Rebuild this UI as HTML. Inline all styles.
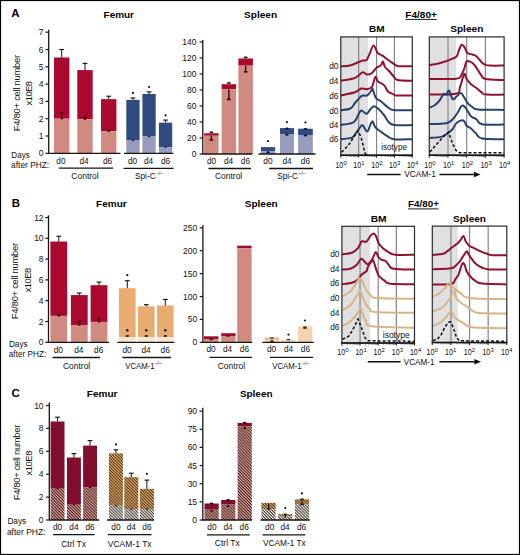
<!DOCTYPE html><html><head><meta charset="utf-8"><style>html,body{margin:0;padding:0;background:#fff;overflow:hidden;width:520px;height:555px;}svg{display:block;}</style></head><body>
<svg width="520" height="555" viewBox="0 0 520 555" font-family='"Liberation Sans", sans-serif'>
<defs>
<pattern id="hRU" patternUnits="userSpaceOnUse" width="2.1" height="2.1" patternTransform="rotate(45)"><rect width="2.1" height="2.1" fill="#8E0F31"/><rect width="2.1" height="0.8" fill="#6C0A25"/></pattern>
<pattern id="hRL" patternUnits="userSpaceOnUse" width="2.1" height="2.1" patternTransform="rotate(45)"><rect width="2.1" height="2.1" fill="#DEA69E"/><rect width="2.1" height="1.05" fill="#4E2020"/></pattern>
<pattern id="hOU" patternUnits="userSpaceOnUse" width="2.1" height="2.1" patternTransform="rotate(45)"><rect width="2.1" height="2.1" fill="#DCA468"/><rect width="2.1" height="1.0" fill="#5A3A18"/></pattern>
<pattern id="hOL" patternUnits="userSpaceOnUse" width="2.1" height="2.1" patternTransform="rotate(45)"><rect width="2.1" height="2.1" fill="#FBF5EA"/><rect width="2.1" height="1.0" fill="#35302A"/></pattern>
</defs>
<rect x="0" y="0" width="520" height="555" fill="#fff"/>
<text x="11.3" y="17.3" font-size="11.5" font-weight="bold" fill="#000">A</text>
<text x="118.8" y="17.9" font-size="9.5" text-anchor="middle" font-weight="bold" textLength="30.4" lengthAdjust="spacingAndGlyphs" fill="#000">Femur</text>
<text x="260.6" y="17.9" font-size="9.5" text-anchor="middle" font-weight="bold" textLength="33.0" lengthAdjust="spacingAndGlyphs" fill="#000">Spleen</text>
<text x="19.6" y="93" font-size="9.4" text-anchor="middle" textLength="76.3" lengthAdjust="spacing" transform="rotate(-90 19.6 93)" fill="#111">F4/80+ cell number</text>
<text x="31.6" y="93.2" font-size="9.4" text-anchor="middle" textLength="24.4" lengthAdjust="spacing" transform="rotate(-90 31.6 93.2)" fill="#111">x10E8</text>
<line x1="48.7" y1="29.8" x2="48.7" y2="153.8" stroke="#151515" stroke-width="1.3"/>
<line x1="45.5" y1="153.3" x2="48.7" y2="153.3" stroke="#151515" stroke-width="1.2"/>
<text x="43.4" y="156.35000000000002" font-size="8.5" text-anchor="end" fill="#111">0</text>
<line x1="45.5" y1="136.0" x2="48.7" y2="136.0" stroke="#151515" stroke-width="1.2"/>
<text x="43.4" y="139.05" font-size="8.5" text-anchor="end" fill="#111">1</text>
<line x1="45.5" y1="118.70000000000002" x2="48.7" y2="118.70000000000002" stroke="#151515" stroke-width="1.2"/>
<text x="43.4" y="121.75000000000001" font-size="8.5" text-anchor="end" fill="#111">2</text>
<line x1="45.5" y1="101.4" x2="48.7" y2="101.4" stroke="#151515" stroke-width="1.2"/>
<text x="43.4" y="104.45" font-size="8.5" text-anchor="end" fill="#111">3</text>
<line x1="45.5" y1="84.10000000000001" x2="48.7" y2="84.10000000000001" stroke="#151515" stroke-width="1.2"/>
<text x="43.4" y="87.15" font-size="8.5" text-anchor="end" fill="#111">4</text>
<line x1="45.5" y1="66.80000000000001" x2="48.7" y2="66.80000000000001" stroke="#151515" stroke-width="1.2"/>
<text x="43.4" y="69.85000000000001" font-size="8.5" text-anchor="end" fill="#111">5</text>
<line x1="45.5" y1="49.5" x2="48.7" y2="49.5" stroke="#151515" stroke-width="1.2"/>
<text x="43.4" y="52.55" font-size="8.5" text-anchor="end" fill="#111">6</text>
<line x1="45.5" y1="32.2" x2="48.7" y2="32.2" stroke="#151515" stroke-width="1.2"/>
<text x="43.4" y="35.25" font-size="8.5" text-anchor="end" fill="#111">7</text>
<rect x="54.00" y="57.46" width="15.40" height="61.24" fill="#A9082F"/>
<rect x="54.00" y="118.70" width="15.40" height="34.60" fill="#D08A7F"/>
<line x1="61.7" y1="49.5" x2="61.7" y2="57.45800000000001" stroke="#1a0a0a" stroke-width="1.0"/>
<line x1="59.300000000000004" y1="49.5" x2="64.10000000000001" y2="49.5" stroke="#1a0a0a" stroke-width="1.1"/>
<rect x="77.30" y="70.09" width="15.40" height="49.13" fill="#A9082F"/>
<rect x="77.30" y="119.22" width="15.40" height="34.08" fill="#D08A7F"/>
<line x1="85.0" y1="63.34" x2="85.0" y2="70.08700000000002" stroke="#1a0a0a" stroke-width="1.0"/>
<line x1="82.6" y1="63.34" x2="87.4" y2="63.34" stroke="#1a0a0a" stroke-width="1.1"/>
<rect x="101.00" y="99.15" width="15.40" height="32.18" fill="#A9082F"/>
<rect x="101.00" y="131.33" width="15.40" height="21.97" fill="#D08A7F"/>
<line x1="108.7" y1="96.21000000000001" x2="108.7" y2="99.15100000000001" stroke="#1a0a0a" stroke-width="1.0"/>
<line x1="106.3" y1="96.21000000000001" x2="111.10000000000001" y2="96.21000000000001" stroke="#1a0a0a" stroke-width="1.1"/>
<line x1="61.7" y1="113.20000000000002" x2="61.7" y2="118.70000000000002" stroke="#300" stroke-width="1.1"/>
<line x1="59.900000000000006" y1="113.20000000000002" x2="63.5" y2="113.20000000000002" stroke="#300" stroke-width="1.1"/>
<line x1="60.6" y1="118.70000000000002" x2="62.800000000000004" y2="118.70000000000002" stroke="#300" stroke-width="1.2"/>
<line x1="85.0" y1="117.21900000000001" x2="85.0" y2="119.21900000000001" stroke="#300" stroke-width="1.1"/>
<line x1="83.2" y1="117.21900000000001" x2="86.8" y2="117.21900000000001" stroke="#300" stroke-width="1.1"/>
<line x1="83.9" y1="119.21900000000001" x2="86.1" y2="119.21900000000001" stroke="#300" stroke-width="1.2"/>
<line x1="108.7" y1="130.329" x2="108.7" y2="131.329" stroke="#300" stroke-width="1.1"/>
<line x1="106.9" y1="130.329" x2="110.5" y2="130.329" stroke="#300" stroke-width="1.1"/>
<line x1="107.60000000000001" y1="131.329" x2="109.8" y2="131.329" stroke="#300" stroke-width="1.2"/>
<rect x="126.30" y="99.84" width="13.30" height="40.66" fill="#2F4B80"/>
<rect x="126.30" y="140.50" width="13.30" height="12.80" fill="#979CBF"/>
<line x1="132.95" y1="97.94" x2="132.95" y2="99.84300000000002" stroke="#1a0a0a" stroke-width="1.0"/>
<line x1="130.54999999999998" y1="97.94" x2="135.35" y2="97.94" stroke="#1a0a0a" stroke-width="1.1"/>
<line x1="131.85" y1="140.49800000000002" x2="134.04999999999998" y2="140.49800000000002" stroke="#0a1030" stroke-width="1.2"/>
<circle cx="132.95" cy="92.9" r="1.1" fill="#111"/>
<rect x="142.40" y="93.96" width="13.30" height="42.56" fill="#2F4B80"/>
<rect x="142.40" y="136.52" width="13.30" height="16.78" fill="#979CBF"/>
<line x1="149.05" y1="91.88500000000002" x2="149.05" y2="93.96100000000001" stroke="#1a0a0a" stroke-width="1.0"/>
<line x1="146.65" y1="91.88500000000002" x2="151.45000000000002" y2="91.88500000000002" stroke="#1a0a0a" stroke-width="1.1"/>
<line x1="147.95000000000002" y1="136.519" x2="150.15" y2="136.519" stroke="#0a1030" stroke-width="1.2"/>
<circle cx="149.05" cy="87.0" r="1.1" fill="#111"/>
<rect x="158.90" y="122.68" width="13.30" height="24.39" fill="#2F4B80"/>
<rect x="158.90" y="147.07" width="13.30" height="6.23" fill="#979CBF"/>
<line x1="165.55" y1="120.084" x2="165.55" y2="122.679" stroke="#1a0a0a" stroke-width="1.0"/>
<line x1="163.15" y1="120.084" x2="167.95000000000002" y2="120.084" stroke="#1a0a0a" stroke-width="1.1"/>
<line x1="164.45000000000002" y1="147.072" x2="166.65" y2="147.072" stroke="#0a1030" stroke-width="1.2"/>
<circle cx="165.55" cy="115.3" r="1.1" fill="#111"/>
<text x="60.9" y="163.8" font-size="8.3" text-anchor="middle" fill="#111">d0</text>
<text x="84.0" y="163.8" font-size="8.3" text-anchor="middle" fill="#111">d4</text>
<text x="107.5" y="163.8" font-size="8.3" text-anchor="middle" fill="#111">d6</text>
<text x="132.5" y="163.8" font-size="8.3" text-anchor="middle" fill="#111">d0</text>
<text x="148.6" y="163.8" font-size="8.3" text-anchor="middle" fill="#111">d4</text>
<text x="165.5" y="163.8" font-size="8.3" text-anchor="middle" fill="#111">d6</text>
<text x="85.0" y="178.6" font-size="8.3" text-anchor="middle" textLength="27.3" lengthAdjust="spacingAndGlyphs" fill="#111">Control</text>
<text x="145.3" y="178.6" font-size="8.3" text-anchor="middle" fill="#111">Spi-C</text>
<text x="156.2" y="175.2" font-size="5.0" fill="#111">&#8211;/&#8211;</text>
<text x="11.3" y="157.7" font-size="8.3" textLength="18.5" lengthAdjust="spacingAndGlyphs" fill="#111">Days</text>
<text x="11.1" y="167.7" font-size="8.3" textLength="38.1" lengthAdjust="spacingAndGlyphs" fill="#111">after PHZ:</text>
<line x1="202.8" y1="40.0" x2="202.8" y2="154.5" stroke="#151515" stroke-width="1.3"/>
<line x1="199.60000000000002" y1="154.0" x2="202.8" y2="154.0" stroke="#151515" stroke-width="1.2"/>
<text x="196.5" y="157.05" font-size="8.5" text-anchor="end" fill="#111">0</text>
<line x1="199.60000000000002" y1="138.0" x2="202.8" y2="138.0" stroke="#151515" stroke-width="1.2"/>
<text x="196.5" y="141.05" font-size="8.5" text-anchor="end" fill="#111">20</text>
<line x1="199.60000000000002" y1="122.0" x2="202.8" y2="122.0" stroke="#151515" stroke-width="1.2"/>
<text x="196.5" y="125.05" font-size="8.5" text-anchor="end" fill="#111">40</text>
<line x1="199.60000000000002" y1="106.0" x2="202.8" y2="106.0" stroke="#151515" stroke-width="1.2"/>
<text x="196.5" y="109.05" font-size="8.5" text-anchor="end" fill="#111">60</text>
<line x1="199.60000000000002" y1="90.0" x2="202.8" y2="90.0" stroke="#151515" stroke-width="1.2"/>
<text x="196.5" y="93.05" font-size="8.5" text-anchor="end" fill="#111">80</text>
<line x1="199.60000000000002" y1="74.0" x2="202.8" y2="74.0" stroke="#151515" stroke-width="1.2"/>
<text x="196.5" y="77.05" font-size="8.5" text-anchor="end" fill="#111">100</text>
<line x1="199.60000000000002" y1="58.0" x2="202.8" y2="58.0" stroke="#151515" stroke-width="1.2"/>
<text x="196.5" y="61.05" font-size="8.5" text-anchor="end" fill="#111">120</text>
<line x1="199.60000000000002" y1="42.0" x2="202.8" y2="42.0" stroke="#151515" stroke-width="1.2"/>
<text x="196.5" y="45.05" font-size="8.5" text-anchor="end" fill="#111">140</text>
<rect x="204.10" y="133.28" width="14.50" height="2.48" fill="#A9082F"/>
<rect x="204.10" y="135.76" width="14.50" height="18.24" fill="#D08A7F"/>
<line x1="211.35" y1="135.76" x2="211.35" y2="139.9" stroke="#200" stroke-width="1.3"/>
<line x1="209.54999999999998" y1="132.3" x2="213.15" y2="132.3" stroke="#200" stroke-width="1.5"/>
<line x1="209.54999999999998" y1="139.9" x2="213.15" y2="139.9" stroke="#200" stroke-width="1.5"/>
<rect x="221.60" y="84.20" width="14.50" height="5.00" fill="#A9082F"/>
<rect x="221.60" y="89.20" width="14.50" height="64.80" fill="#D08A7F"/>
<line x1="228.85" y1="89.2" x2="228.85" y2="99.5" stroke="#200" stroke-width="1.3"/>
<line x1="227.04999999999998" y1="83.0" x2="230.65" y2="83.0" stroke="#200" stroke-width="1.5"/>
<line x1="227.04999999999998" y1="99.5" x2="230.65" y2="99.5" stroke="#200" stroke-width="1.5"/>
<rect x="238.40" y="58.48" width="14.50" height="7.20" fill="#A9082F"/>
<rect x="238.40" y="65.68" width="14.50" height="88.32" fill="#D08A7F"/>
<line x1="245.65" y1="65.67999999999999" x2="245.65" y2="71.8" stroke="#200" stroke-width="1.3"/>
<line x1="243.85" y1="57.4" x2="247.45000000000002" y2="57.4" stroke="#200" stroke-width="1.5"/>
<line x1="243.85" y1="71.8" x2="247.45000000000002" y2="71.8" stroke="#200" stroke-width="1.5"/>
<rect x="261.00" y="147.12" width="14.20" height="4.00" fill="#2F4B80"/>
<rect x="261.00" y="151.12" width="14.20" height="2.88" fill="#979CBF"/>
<ellipse cx="268.1" cy="152.2" rx="1.8" ry="1.0" fill="#0a1030"/>
<circle cx="268.1" cy="141.1" r="1.1" fill="#111"/>
<rect x="280.00" y="128.08" width="14.00" height="6.32" fill="#2F4B80"/>
<rect x="280.00" y="134.40" width="14.00" height="19.60" fill="#979CBF"/>
<ellipse cx="287.0" cy="128.4" rx="1.8" ry="1.0" fill="#0a1030"/>
<ellipse cx="287.0" cy="134.8" rx="1.8" ry="1.0" fill="#0a1030"/>
<circle cx="287.0" cy="122.1" r="1.1" fill="#111"/>
<rect x="298.10" y="128.72" width="14.70" height="6.80" fill="#2F4B80"/>
<rect x="298.10" y="135.52" width="14.70" height="18.48" fill="#979CBF"/>
<ellipse cx="305.45000000000005" cy="128.9" rx="1.8" ry="1.0" fill="#0a1030"/>
<ellipse cx="305.45000000000005" cy="135.6" rx="1.8" ry="1.0" fill="#0a1030"/>
<circle cx="305.45000000000005" cy="122.5" r="1.1" fill="#111"/>
<text x="211.5" y="163.8" font-size="8.3" text-anchor="middle" fill="#111">d0</text>
<text x="228.6" y="163.8" font-size="8.3" text-anchor="middle" fill="#111">d4</text>
<text x="245.4" y="163.8" font-size="8.3" text-anchor="middle" fill="#111">d6</text>
<text x="267.9" y="163.8" font-size="8.3" text-anchor="middle" fill="#111">d0</text>
<text x="287.1" y="163.8" font-size="8.3" text-anchor="middle" fill="#111">d4</text>
<text x="305.4" y="163.8" font-size="8.3" text-anchor="middle" fill="#111">d6</text>
<text x="228.6" y="178.6" font-size="8.3" text-anchor="middle" textLength="27.3" lengthAdjust="spacingAndGlyphs" fill="#111">Control</text>
<text x="287.5" y="178.6" font-size="8.3" text-anchor="middle" fill="#111">Spi-C</text>
<text x="298.4" y="175.2" font-size="5.0" fill="#111">&#8211;/&#8211;</text>
<text x="11.8" y="207.1" font-size="11.5" font-weight="bold" fill="#000">B</text>
<text x="111.4" y="207.4" font-size="9.5" text-anchor="middle" font-weight="bold" textLength="30.6" lengthAdjust="spacingAndGlyphs" fill="#000">Femur</text>
<text x="261.2" y="207.4" font-size="9.5" text-anchor="middle" font-weight="bold" textLength="32.9" lengthAdjust="spacingAndGlyphs" fill="#000">Spleen</text>
<text x="17.9" y="281.0" font-size="9.4" text-anchor="middle" textLength="76.3" lengthAdjust="spacing" transform="rotate(-90 17.9 281.0)" fill="#111">F4/80+ cell number</text>
<text x="31.1" y="280.0" font-size="9.4" text-anchor="middle" textLength="24.7" lengthAdjust="spacing" transform="rotate(-90 31.1 280.0)" fill="#111">x10E8</text>
<line x1="48.5" y1="215.4" x2="48.5" y2="342.8" stroke="#151515" stroke-width="1.3"/>
<line x1="45.3" y1="342.3" x2="48.5" y2="342.3" stroke="#151515" stroke-width="1.2"/>
<text x="43.6" y="345.35" font-size="8.5" text-anchor="end" fill="#111">0</text>
<line x1="45.3" y1="321.5" x2="48.5" y2="321.5" stroke="#151515" stroke-width="1.2"/>
<text x="43.6" y="324.55" font-size="8.5" text-anchor="end" fill="#111">2</text>
<line x1="45.3" y1="300.7" x2="48.5" y2="300.7" stroke="#151515" stroke-width="1.2"/>
<text x="43.6" y="303.75" font-size="8.5" text-anchor="end" fill="#111">4</text>
<line x1="45.3" y1="279.9" x2="48.5" y2="279.9" stroke="#151515" stroke-width="1.2"/>
<text x="43.6" y="282.95" font-size="8.5" text-anchor="end" fill="#111">6</text>
<line x1="45.3" y1="259.1" x2="48.5" y2="259.1" stroke="#151515" stroke-width="1.2"/>
<text x="43.6" y="262.15000000000003" font-size="8.5" text-anchor="end" fill="#111">8</text>
<line x1="45.3" y1="238.3" x2="48.5" y2="238.3" stroke="#151515" stroke-width="1.2"/>
<text x="43.6" y="241.35000000000002" font-size="8.5" text-anchor="end" fill="#111">10</text>
<line x1="45.3" y1="217.5" x2="48.5" y2="217.5" stroke="#151515" stroke-width="1.2"/>
<text x="43.6" y="220.55" font-size="8.5" text-anchor="end" fill="#111">12</text>
<rect x="50.40" y="241.52" width="16.80" height="74.36" fill="#A9082F"/>
<rect x="50.40" y="315.88" width="16.80" height="26.42" fill="#D08A7F"/>
<line x1="58.8" y1="236.22000000000003" x2="58.8" y2="241.524" stroke="#1a0a0a" stroke-width="1.0"/>
<line x1="56.4" y1="236.22000000000003" x2="61.199999999999996" y2="236.22000000000003" stroke="#1a0a0a" stroke-width="1.1"/>
<line x1="58.8" y1="314.384" x2="58.8" y2="315.884" stroke="#300" stroke-width="1.1"/>
<line x1="57.0" y1="314.384" x2="60.599999999999994" y2="314.384" stroke="#300" stroke-width="1.1"/>
<line x1="57.699999999999996" y1="315.884" x2="59.9" y2="315.884" stroke="#300" stroke-width="1.2"/>
<rect x="70.90" y="295.08" width="16.80" height="29.95" fill="#A9082F"/>
<rect x="70.90" y="325.04" width="16.80" height="17.26" fill="#D08A7F"/>
<line x1="79.30000000000001" y1="293.004" x2="79.30000000000001" y2="295.084" stroke="#1a0a0a" stroke-width="1.0"/>
<line x1="76.9" y1="293.004" x2="81.70000000000002" y2="293.004" stroke="#1a0a0a" stroke-width="1.1"/>
<line x1="79.30000000000001" y1="321.436" x2="79.30000000000001" y2="325.036" stroke="#300" stroke-width="1.1"/>
<line x1="77.50000000000001" y1="321.436" x2="81.10000000000001" y2="321.436" stroke="#300" stroke-width="1.1"/>
<line x1="78.20000000000002" y1="325.036" x2="80.4" y2="325.036" stroke="#300" stroke-width="1.2"/>
<rect x="90.60" y="285.20" width="16.80" height="36.71" fill="#A9082F"/>
<rect x="90.60" y="321.92" width="16.80" height="20.38" fill="#D08A7F"/>
<line x1="99.0" y1="282.084" x2="99.0" y2="285.204" stroke="#1a0a0a" stroke-width="1.0"/>
<line x1="96.6" y1="282.084" x2="101.4" y2="282.084" stroke="#1a0a0a" stroke-width="1.1"/>
<line x1="99.0" y1="318.316" x2="99.0" y2="321.916" stroke="#300" stroke-width="1.1"/>
<line x1="97.2" y1="318.316" x2="100.8" y2="318.316" stroke="#300" stroke-width="1.1"/>
<line x1="97.9" y1="321.916" x2="100.1" y2="321.916" stroke="#300" stroke-width="1.2"/>
<rect x="119.00" y="288.22" width="16.60" height="48.88" fill="#E9AB6F"/>
<rect x="119.00" y="337.10" width="16.60" height="5.20" fill="#FAE6D0"/>
<line x1="127.3" y1="280.732" x2="127.3" y2="288.22" stroke="#1a0a0a" stroke-width="1.0"/>
<line x1="124.89999999999999" y1="280.732" x2="129.7" y2="280.732" stroke="#1a0a0a" stroke-width="1.1"/>
<circle cx="127.3" cy="330.3" r="1.2" fill="#111"/>
<line x1="125.8" y1="336.0" x2="128.8" y2="336.0" stroke="#111" stroke-width="1.6"/>
<circle cx="127.3" cy="275.2" r="1.1" fill="#111"/>
<rect x="138.00" y="306.32" width="16.60" height="30.78" fill="#E9AB6F"/>
<rect x="138.00" y="337.10" width="16.60" height="5.20" fill="#FAE6D0"/>
<line x1="146.3" y1="304.652" x2="146.3" y2="306.31600000000003" stroke="#1a0a0a" stroke-width="1.0"/>
<line x1="143.9" y1="304.652" x2="148.70000000000002" y2="304.652" stroke="#1a0a0a" stroke-width="1.1"/>
<circle cx="146.3" cy="330.3" r="1.2" fill="#111"/>
<line x1="144.8" y1="336.0" x2="147.8" y2="336.0" stroke="#111" stroke-width="1.6"/>
<rect x="157.00" y="305.48" width="16.60" height="31.62" fill="#E9AB6F"/>
<rect x="157.00" y="337.10" width="16.60" height="5.20" fill="#FAE6D0"/>
<line x1="165.3" y1="299.452" x2="165.3" y2="305.48400000000004" stroke="#1a0a0a" stroke-width="1.0"/>
<line x1="162.9" y1="299.452" x2="167.70000000000002" y2="299.452" stroke="#1a0a0a" stroke-width="1.1"/>
<circle cx="165.3" cy="330.3" r="1.2" fill="#111"/>
<line x1="163.8" y1="336.0" x2="166.8" y2="336.0" stroke="#111" stroke-width="1.6"/>
<text x="58.3" y="352.9" font-size="8.3" text-anchor="middle" fill="#111">d0</text>
<text x="78.8" y="352.9" font-size="8.3" text-anchor="middle" fill="#111">d4</text>
<text x="98.7" y="352.9" font-size="8.3" text-anchor="middle" fill="#111">d6</text>
<text x="127.0" y="352.9" font-size="8.3" text-anchor="middle" fill="#111">d0</text>
<text x="146.0" y="352.9" font-size="8.3" text-anchor="middle" fill="#111">d4</text>
<text x="165.2" y="352.9" font-size="8.3" text-anchor="middle" fill="#111">d6</text>
<text x="76.6" y="368.5" font-size="8.3" text-anchor="middle" textLength="27.3" lengthAdjust="spacingAndGlyphs" fill="#111">Control</text>
<text x="140.0" y="368.5" font-size="8.3" text-anchor="middle" textLength="29.4" lengthAdjust="spacingAndGlyphs" fill="#111">VCAM-1</text>
<text x="155.0" y="365.0" font-size="5.0" fill="#111">&#8211;/&#8211;</text>
<text x="8.9" y="347.2" font-size="8.3" textLength="18.8" lengthAdjust="spacingAndGlyphs" fill="#111">Days</text>
<text x="8.8" y="357.4" font-size="8.3" textLength="37.4" lengthAdjust="spacingAndGlyphs" fill="#111">after PHZ:</text>
<line x1="202.9" y1="225.2" x2="202.9" y2="342.8" stroke="#151515" stroke-width="1.3"/>
<line x1="199.70000000000002" y1="342.3" x2="202.9" y2="342.3" stroke="#151515" stroke-width="1.2"/>
<text x="197.3" y="345.35" font-size="8.5" text-anchor="end" fill="#111">0</text>
<line x1="199.70000000000002" y1="319.40000000000003" x2="202.9" y2="319.40000000000003" stroke="#151515" stroke-width="1.2"/>
<text x="197.3" y="322.45000000000005" font-size="8.5" text-anchor="end" fill="#111">50</text>
<line x1="199.70000000000002" y1="296.5" x2="202.9" y2="296.5" stroke="#151515" stroke-width="1.2"/>
<text x="197.3" y="299.55" font-size="8.5" text-anchor="end" fill="#111">100</text>
<line x1="199.70000000000002" y1="273.6" x2="202.9" y2="273.6" stroke="#151515" stroke-width="1.2"/>
<text x="197.3" y="276.65000000000003" font-size="8.5" text-anchor="end" fill="#111">150</text>
<line x1="199.70000000000002" y1="250.7" x2="202.9" y2="250.7" stroke="#151515" stroke-width="1.2"/>
<text x="197.3" y="253.75" font-size="8.5" text-anchor="end" fill="#111">200</text>
<line x1="199.70000000000002" y1="227.8" x2="202.9" y2="227.8" stroke="#151515" stroke-width="1.2"/>
<text x="197.3" y="230.85000000000002" font-size="8.5" text-anchor="end" fill="#111">250</text>
<rect x="204.00" y="336.30" width="14.40" height="3.11" fill="#A9082F"/>
<rect x="204.00" y="339.41" width="14.40" height="2.89" fill="#D08A7F"/>
<rect x="221.20" y="333.23" width="14.40" height="2.75" fill="#A9082F"/>
<rect x="221.20" y="335.98" width="14.40" height="6.32" fill="#D08A7F"/>
<rect x="237.20" y="245.66" width="14.40" height="2.61" fill="#A9082F"/>
<rect x="237.20" y="248.27" width="14.40" height="94.03" fill="#D08A7F"/>
<line x1="209.6" y1="339.4" x2="212.8" y2="339.4" stroke="#300" stroke-width="1.3"/>
<line x1="226.4" y1="336.0" x2="229.6" y2="336.0" stroke="#300" stroke-width="1.3"/>
<rect x="264.80" y="337.45" width="14.40" height="2.56" fill="#E6C092"/>
<rect x="264.80" y="340.01" width="14.40" height="2.29" fill="#F2DCC0"/>
<line x1="270.2" y1="338.0" x2="273.6" y2="338.0" stroke="#402010" stroke-width="1.3"/>
<line x1="270.4" y1="341.2" x2="273.4" y2="341.2" stroke="#201008" stroke-width="1.6"/>
<rect x="281.50" y="340.28" width="13.90" height="1.10" fill="#EFCDA4"/>
<rect x="281.50" y="341.38" width="13.90" height="0.92" fill="#F7E2C8"/>
<line x1="286.8" y1="339.6" x2="290.2" y2="339.6" stroke="#402010" stroke-width="1.3"/>
<circle cx="288.5" cy="334.6" r="1.1" fill="#111"/>
<rect x="298.00" y="326.27" width="14.30" height="16.03" fill="#F5D3B0"/>
<rect x="298.00" y="342.30" width="14.30" height="0.00" fill="#F5D3B0"/>
<rect x="303.20" y="326.40" width="3.40" height="2.40" fill="#3a2a20"/>
<circle cx="304.9" cy="320.5" r="1.1" fill="#111"/>
<text x="271.5" y="352.3" font-size="8.3" text-anchor="middle" fill="#111">d0</text>
<text x="288.5" y="352.3" font-size="8.3" text-anchor="middle" fill="#111">d4</text>
<text x="305.4" y="352.3" font-size="8.3" text-anchor="middle" fill="#111">d6</text>
<text x="211.0" y="352.3" font-size="8.3" text-anchor="middle" fill="#111">d0</text>
<text x="227.6" y="352.3" font-size="8.3" text-anchor="middle" fill="#111">d4</text>
<text x="244.4" y="352.3" font-size="8.3" text-anchor="middle" fill="#111">d6</text>
<text x="231.4" y="368.6" font-size="8.3" text-anchor="middle" textLength="27.3" lengthAdjust="spacingAndGlyphs" fill="#111">Control</text>
<text x="287.0" y="368.6" font-size="8.3" text-anchor="middle" textLength="29.4" lengthAdjust="spacingAndGlyphs" fill="#111">VCAM-1</text>
<text x="302.0" y="365.0" font-size="5.0" fill="#111">&#8211;/&#8211;</text>
<text x="421.1" y="17.7" font-size="9.5" text-anchor="middle" font-weight="bold" textLength="31.5" lengthAdjust="spacingAndGlyphs" fill="#000">F4/80+</text>
<line x1="405.4" y1="19.4" x2="436.6" y2="19.4" stroke="#000" stroke-width="0.9"/>
<text x="376.9" y="32.3" font-size="9.5" text-anchor="middle" font-weight="bold" textLength="15.6" lengthAdjust="spacingAndGlyphs" fill="#000">BM</text>
<text x="466.8" y="32.1" font-size="9.5" text-anchor="middle" font-weight="bold" textLength="33.2" lengthAdjust="spacingAndGlyphs" fill="#000">Spleen</text>
<rect x="340.80" y="36.90" width="27.20" height="118.30" fill="#E0E0E2"/>
<line x1="358.675" y1="36.9" x2="358.675" y2="155.2" stroke="#858585" stroke-width="1.2"/>
<line x1="376.55" y1="36.9" x2="376.55" y2="155.2" stroke="#858585" stroke-width="1.2"/>
<line x1="394.425" y1="36.9" x2="394.425" y2="155.2" stroke="#858585" stroke-width="1.2"/>
<path d="M340.8,66.2 C342.3,66.1 347.1,66.2 350.0,65.5 C352.9,64.8 355.9,63.1 358.0,62.3 C360.1,61.5 361.3,60.9 362.7,60.5 C364.1,60.1 365.4,61.1 366.5,60.0 C367.6,58.9 368.3,56.4 369.5,54.0 C370.7,51.6 372.2,45.7 373.5,45.4 C374.8,45.1 376.2,50.8 377.3,52.3 C378.4,53.8 379.0,53.9 380.0,54.5 C381.0,55.1 382.5,55.5 383.5,56.2 C384.5,56.9 384.9,57.6 386.0,58.5 C387.1,59.4 388.6,60.3 390.4,61.5 C392.1,62.7 394.9,64.9 396.5,65.7 C398.1,66.5 397.4,66.1 400.0,66.2 C402.6,66.3 410.2,66.2 412.3,66.2" fill="none" stroke="#921131" stroke-width="2.0" stroke-linejoin="round" stroke-linecap="butt"/>
<path d="M340.8,80.8 C342.9,80.4 350.6,79.3 353.5,78.5 C356.4,77.7 356.5,77.0 358.0,76.0 C359.5,75.0 361.1,72.5 362.7,72.3 C364.2,72.1 365.8,74.5 367.3,74.6 C368.8,74.7 370.4,74.2 371.9,73.0 C373.4,71.8 375.2,68.8 376.5,67.7 C377.8,66.6 378.8,66.7 379.6,66.2 C380.4,65.7 380.9,65.3 381.5,64.5 C382.1,63.7 382.4,61.1 383.0,61.5 C383.6,61.9 384.0,65.5 385.0,67.0 C386.0,68.5 387.4,69.3 388.8,70.8 C390.2,72.3 392.1,74.7 393.5,76.2 C394.9,77.7 394.2,79.2 397.3,80.0 C400.4,80.8 409.8,80.7 412.3,80.8" fill="none" stroke="#921131" stroke-width="2.0" stroke-linejoin="round" stroke-linecap="butt"/>
<path d="M340.8,95.4 C343.2,94.9 351.6,93.5 355.0,92.3 C358.4,91.1 359.3,89.0 361.2,88.5 C363.1,88.0 364.7,89.5 366.5,89.2 C368.3,88.9 370.4,89.0 371.9,86.9 C373.4,84.9 374.3,77.8 375.3,76.9 C376.3,76.0 376.5,80.1 378.0,81.5 C379.5,82.9 382.5,83.7 384.2,85.4 C385.9,87.1 386.4,90.0 388.0,91.5 C389.6,93.0 392.2,93.6 393.5,94.3 C394.8,95.0 392.9,95.2 396.0,95.4 C399.1,95.6 409.6,95.4 412.3,95.4" fill="none" stroke="#921131" stroke-width="2.0" stroke-linejoin="round" stroke-linecap="butt"/>
<path d="M340.8,110.3 C342.4,110.0 348.0,109.7 350.4,108.5 C352.8,107.3 353.3,104.9 355.0,103.0 C356.7,101.1 359.0,98.2 360.4,96.9 C361.8,95.6 362.4,95.7 363.5,95.4 C364.6,95.2 365.9,96.3 367.3,95.4 C368.7,94.5 371.0,91.0 371.9,90.0 C372.8,89.0 372.0,87.9 372.7,89.2 C373.4,90.5 374.4,95.7 375.8,97.7 C377.2,99.8 379.3,100.0 381.2,101.5 C383.1,103.0 385.2,105.5 387.3,106.9 C389.4,108.3 389.3,109.4 393.5,110.0 C397.7,110.6 409.2,110.2 412.3,110.3" fill="none" stroke="#29416D" stroke-width="2.0" stroke-linejoin="round" stroke-linecap="butt"/>
<path d="M340.8,125.1 C342.9,124.6 350.6,123.9 353.5,122.3 C356.4,120.7 356.7,117.4 358.0,115.4 C359.3,113.4 359.8,110.8 361.2,110.5 C362.6,110.2 365.0,114.0 366.5,113.8 C368.0,113.6 369.1,110.5 370.4,109.2 C371.7,107.9 372.7,106.1 374.2,106.2 C375.7,106.3 377.9,108.5 379.6,110.0 C381.3,111.5 382.7,113.4 384.2,115.4 C385.7,117.5 387.1,120.7 388.8,122.3 C390.5,123.9 390.3,124.4 394.2,124.9 C398.1,125.4 409.3,125.1 412.3,125.1" fill="none" stroke="#29416D" stroke-width="2.0" stroke-linejoin="round" stroke-linecap="butt"/>
<path d="M340.8,139.2 C342.6,138.9 349.3,138.8 351.9,137.7 C354.5,136.5 355.1,134.1 356.5,132.3 C357.9,130.5 359.4,128.1 360.4,126.9 C361.4,125.8 361.5,124.6 362.7,125.4 C363.9,126.2 366.0,131.6 367.3,131.5 C368.6,131.4 369.5,126.3 370.4,124.6 C371.3,122.9 371.9,121.1 372.7,121.5 C373.5,121.9 373.9,125.4 375.0,126.9 C376.1,128.5 377.6,129.2 379.6,130.8 C381.7,132.4 384.9,134.8 387.3,136.2 C389.7,137.6 390.0,138.7 394.2,139.2 C398.4,139.7 409.3,139.2 412.3,139.2" fill="none" stroke="#29416D" stroke-width="2.0" stroke-linejoin="round" stroke-linecap="butt"/>
<polyline points="341.5,152.3 345.0,149.0 350.0,143.0 355.0,135.0 358.0,130.8 361.0,137.0 363.0,145.0 365.0,153.0 367.0,155.0" fill="none" stroke="#111" stroke-width="1.5" stroke-dasharray="3,2"/>
<rect x="340.8" y="36.9" width="71.50" height="118.30" fill="none" stroke="#2a2a2a" stroke-width="1.2"/>
<line x1="340.2" y1="155.2" x2="412.90000000000003" y2="155.2" stroke="#111" stroke-width="1.5"/>
<line x1="346.18091117249367" y1="155.2" x2="346.18091117249367" y2="157.0" stroke="#333" stroke-width="0.6"/>
<line x1="349.32854242811396" y1="155.2" x2="349.32854242811396" y2="157.0" stroke="#333" stroke-width="0.6"/>
<line x1="351.5618223449873" y1="155.2" x2="351.5618223449873" y2="157.0" stroke="#333" stroke-width="0.6"/>
<line x1="353.29408882750636" y1="155.2" x2="353.29408882750636" y2="157.0" stroke="#333" stroke-width="0.6"/>
<line x1="354.7094536006076" y1="155.2" x2="354.7094536006076" y2="157.0" stroke="#333" stroke-width="0.6"/>
<line x1="355.9061274652548" y1="155.2" x2="355.9061274652548" y2="157.0" stroke="#333" stroke-width="0.6"/>
<line x1="356.942733517481" y1="155.2" x2="356.942733517481" y2="157.0" stroke="#333" stroke-width="0.6"/>
<line x1="357.85708485622797" y1="155.2" x2="357.85708485622797" y2="157.0" stroke="#333" stroke-width="0.6"/>
<line x1="364.05591117249367" y1="155.2" x2="364.05591117249367" y2="157.0" stroke="#333" stroke-width="0.6"/>
<line x1="367.20354242811396" y1="155.2" x2="367.20354242811396" y2="157.0" stroke="#333" stroke-width="0.6"/>
<line x1="369.4368223449873" y1="155.2" x2="369.4368223449873" y2="157.0" stroke="#333" stroke-width="0.6"/>
<line x1="371.16908882750636" y1="155.2" x2="371.16908882750636" y2="157.0" stroke="#333" stroke-width="0.6"/>
<line x1="372.5844536006076" y1="155.2" x2="372.5844536006076" y2="157.0" stroke="#333" stroke-width="0.6"/>
<line x1="373.7811274652548" y1="155.2" x2="373.7811274652548" y2="157.0" stroke="#333" stroke-width="0.6"/>
<line x1="374.817733517481" y1="155.2" x2="374.817733517481" y2="157.0" stroke="#333" stroke-width="0.6"/>
<line x1="375.73208485622797" y1="155.2" x2="375.73208485622797" y2="157.0" stroke="#333" stroke-width="0.6"/>
<line x1="381.93091117249367" y1="155.2" x2="381.93091117249367" y2="157.0" stroke="#333" stroke-width="0.6"/>
<line x1="385.07854242811396" y1="155.2" x2="385.07854242811396" y2="157.0" stroke="#333" stroke-width="0.6"/>
<line x1="387.3118223449873" y1="155.2" x2="387.3118223449873" y2="157.0" stroke="#333" stroke-width="0.6"/>
<line x1="389.04408882750636" y1="155.2" x2="389.04408882750636" y2="157.0" stroke="#333" stroke-width="0.6"/>
<line x1="390.4594536006076" y1="155.2" x2="390.4594536006076" y2="157.0" stroke="#333" stroke-width="0.6"/>
<line x1="391.6561274652548" y1="155.2" x2="391.6561274652548" y2="157.0" stroke="#333" stroke-width="0.6"/>
<line x1="392.692733517481" y1="155.2" x2="392.692733517481" y2="157.0" stroke="#333" stroke-width="0.6"/>
<line x1="393.60708485622797" y1="155.2" x2="393.60708485622797" y2="157.0" stroke="#333" stroke-width="0.6"/>
<line x1="399.80591117249367" y1="155.2" x2="399.80591117249367" y2="157.0" stroke="#333" stroke-width="0.6"/>
<line x1="402.95354242811396" y1="155.2" x2="402.95354242811396" y2="157.0" stroke="#333" stroke-width="0.6"/>
<line x1="405.1868223449873" y1="155.2" x2="405.1868223449873" y2="157.0" stroke="#333" stroke-width="0.6"/>
<line x1="406.91908882750636" y1="155.2" x2="406.91908882750636" y2="157.0" stroke="#333" stroke-width="0.6"/>
<line x1="408.3344536006076" y1="155.2" x2="408.3344536006076" y2="157.0" stroke="#333" stroke-width="0.6"/>
<line x1="409.5311274652548" y1="155.2" x2="409.5311274652548" y2="157.0" stroke="#333" stroke-width="0.6"/>
<line x1="410.567733517481" y1="155.2" x2="410.567733517481" y2="157.0" stroke="#333" stroke-width="0.6"/>
<line x1="411.48208485622797" y1="155.2" x2="411.48208485622797" y2="157.0" stroke="#333" stroke-width="0.6"/>
<line x1="340.8" y1="155.2" x2="340.8" y2="157.79999999999998" stroke="#111" stroke-width="0.9"/>
<line x1="358.675" y1="155.2" x2="358.675" y2="157.79999999999998" stroke="#111" stroke-width="0.9"/>
<line x1="376.55" y1="155.2" x2="376.55" y2="157.79999999999998" stroke="#111" stroke-width="0.9"/>
<line x1="394.425" y1="155.2" x2="394.425" y2="157.79999999999998" stroke="#111" stroke-width="0.9"/>
<line x1="412.3" y1="155.2" x2="412.3" y2="157.79999999999998" stroke="#111" stroke-width="0.9"/>
<text x="335.4" y="167.7" font-size="8.4" fill="#111" textLength="7.9" lengthAdjust="spacingAndGlyphs">10</text>
<text x="343.4" y="164.5" font-size="6.0" fill="#111">0</text>
<text x="353.3" y="167.7" font-size="8.4" fill="#111" textLength="7.9" lengthAdjust="spacingAndGlyphs">10</text>
<text x="361.3" y="164.5" font-size="6.0" fill="#111">1</text>
<text x="371.2" y="167.7" font-size="8.4" fill="#111" textLength="7.9" lengthAdjust="spacingAndGlyphs">10</text>
<text x="379.2" y="164.5" font-size="6.0" fill="#111">2</text>
<text x="389.0" y="167.7" font-size="8.4" fill="#111" textLength="7.9" lengthAdjust="spacingAndGlyphs">10</text>
<text x="397.0" y="164.5" font-size="6.0" fill="#111">3</text>
<text x="406.9" y="167.7" font-size="8.4" fill="#111" textLength="7.9" lengthAdjust="spacingAndGlyphs">10</text>
<text x="414.9" y="164.5" font-size="6.0" fill="#111">4</text>
<rect x="429.30" y="36.90" width="26.70" height="118.30" fill="#E0E0E2"/>
<line x1="448.0" y1="36.9" x2="448.0" y2="155.2" stroke="#858585" stroke-width="1.2"/>
<line x1="466.70000000000005" y1="36.9" x2="466.70000000000005" y2="155.2" stroke="#858585" stroke-width="1.2"/>
<line x1="485.40000000000003" y1="36.9" x2="485.40000000000003" y2="155.2" stroke="#858585" stroke-width="1.2"/>
<path d="M429.3,65.1 C431.3,64.7 437.3,63.8 441.2,62.7 C445.1,61.6 450.1,59.7 452.7,58.6 C455.3,57.5 455.8,57.6 456.8,56.2 C457.9,54.8 458.2,51.9 459.0,50.0 C459.8,48.1 460.7,45.0 461.7,44.7 C462.7,44.4 464.1,46.6 465.0,48.0 C465.9,49.4 466.2,51.8 467.4,52.9 C468.6,54.0 470.8,54.0 472.3,54.5 C473.8,55.0 474.9,55.0 476.4,56.2 C477.9,57.4 479.8,60.5 481.3,61.9 C482.8,63.3 483.9,64.2 485.4,64.8 C486.8,65.4 486.9,65.5 490.0,65.6 C493.1,65.7 501.8,65.6 504.1,65.6" fill="none" stroke="#921131" stroke-width="2.0" stroke-linejoin="round" stroke-linecap="butt"/>
<path d="M429.3,79.0 C433.8,79.0 450.7,79.2 456.0,78.7 C461.3,78.2 459.5,77.4 460.9,75.8 C462.2,74.2 463.2,71.6 464.1,69.2 C465.1,66.8 465.5,62.6 466.6,61.4 C467.7,60.2 469.6,61.5 470.7,61.9 C471.8,62.2 472.2,62.5 473.1,63.5 C474.1,64.5 475.2,65.8 476.4,67.6 C477.6,69.4 479.0,72.2 480.5,74.1 C482.0,76.0 481.5,78.0 485.4,79.0 C489.3,80.0 501.0,79.8 504.1,80.0" fill="none" stroke="#921131" stroke-width="2.0" stroke-linejoin="round" stroke-linecap="butt"/>
<path d="M429.3,94.6 C433.8,94.5 450.9,95.0 456.0,93.8 C461.1,92.6 458.6,90.5 460.0,87.2 C461.4,83.9 463.0,75.5 464.1,74.1 C465.2,72.7 465.5,77.4 466.6,79.0 C467.7,80.6 469.1,82.4 470.7,83.9 C472.3,85.4 474.5,86.5 476.4,88.0 C478.3,89.5 480.5,91.8 482.1,92.9 C483.7,94.0 482.3,94.3 486.0,94.6 C489.7,94.9 501.1,94.6 504.1,94.6" fill="none" stroke="#921131" stroke-width="2.0" stroke-linejoin="round" stroke-linecap="butt"/>
<path d="M429.3,107.8 C430.2,107.4 433.0,106.5 434.7,105.3 C436.4,104.1 438.1,102.3 439.6,100.4 C441.1,98.5 442.6,94.9 443.7,93.9 C444.8,93.0 445.3,95.2 446.2,94.7 C447.1,94.2 448.0,89.8 449.1,90.6 C450.2,91.4 451.4,98.3 452.7,99.3 C454.0,100.2 455.4,97.3 456.8,96.3 C458.2,95.3 459.7,92.9 460.9,93.1 C462.1,93.2 463.0,95.6 464.1,97.2 C465.2,98.8 466.0,101.3 467.4,102.9 C468.8,104.5 470.5,105.9 472.3,107.0 C474.1,108.1 472.7,108.9 478.0,109.4 C483.3,109.9 499.8,109.8 504.1,109.9" fill="none" stroke="#29416D" stroke-width="2.0" stroke-linejoin="round" stroke-linecap="butt"/>
<path d="M429.3,124.1 C432.1,124.0 442.3,124.1 446.2,123.3 C450.1,122.5 450.8,121.0 452.7,119.2 C454.6,117.4 456.1,114.9 457.6,112.7 C459.1,110.5 460.5,106.8 461.7,105.8 C462.9,104.8 463.9,106.0 465.0,107.0 C466.1,108.0 467.1,110.3 468.2,111.9 C469.3,113.5 470.1,115.6 471.5,116.8 C472.9,118.0 474.6,118.0 476.4,119.2 C478.2,120.5 477.5,123.4 482.1,124.3 C486.7,125.2 500.4,124.5 504.1,124.6" fill="none" stroke="#29416D" stroke-width="2.0" stroke-linejoin="round" stroke-linecap="butt"/>
<path d="M429.3,138.0 C431.3,137.8 438.1,137.7 441.2,136.9 C444.3,136.1 445.9,134.4 447.8,133.1 C449.7,131.8 451.2,130.7 452.7,129.0 C454.2,127.3 455.0,124.2 456.8,122.8 C458.6,121.4 461.7,120.0 463.3,120.5 C464.9,121.0 465.4,124.5 466.6,125.8 C467.8,127.1 469.2,127.0 470.7,128.2 C472.2,129.4 473.7,131.4 475.6,133.1 C477.5,134.8 477.4,137.6 482.1,138.6 C486.9,139.6 500.4,139.1 504.1,139.2" fill="none" stroke="#29416D" stroke-width="2.0" stroke-linejoin="round" stroke-linecap="butt"/>
<polyline points="429.8,151.9 436.3,144.6 442.9,137.2 448.6,132.3 452.7,143.7 456.0,150.3 459.2,152.7 504.1,152.7" fill="none" stroke="#111" stroke-width="1.5" stroke-dasharray="3,2"/>
<rect x="429.3" y="36.9" width="74.80" height="118.30" fill="none" stroke="#2a2a2a" stroke-width="1.2"/>
<line x1="428.7" y1="155.2" x2="504.70000000000005" y2="155.2" stroke="#111" stroke-width="1.5"/>
<line x1="434.92926091891644" y1="155.2" x2="434.92926091891644" y2="157.0" stroke="#333" stroke-width="0.6"/>
<line x1="438.2221674632577" y1="155.2" x2="438.2221674632577" y2="157.0" stroke="#333" stroke-width="0.6"/>
<line x1="440.5585218378329" y1="155.2" x2="440.5585218378329" y2="157.0" stroke="#333" stroke-width="0.6"/>
<line x1="442.37073908108357" y1="155.2" x2="442.37073908108357" y2="157.0" stroke="#333" stroke-width="0.6"/>
<line x1="443.85142838217416" y1="155.2" x2="443.85142838217416" y2="157.0" stroke="#333" stroke-width="0.6"/>
<line x1="445.10333334826663" y1="155.2" x2="445.10333334826663" y2="157.0" stroke="#333" stroke-width="0.6"/>
<line x1="446.18778275674936" y1="155.2" x2="446.18778275674936" y2="157.0" stroke="#333" stroke-width="0.6"/>
<line x1="447.1443349265154" y1="155.2" x2="447.1443349265154" y2="157.0" stroke="#333" stroke-width="0.6"/>
<line x1="453.62926091891643" y1="155.2" x2="453.62926091891643" y2="157.0" stroke="#333" stroke-width="0.6"/>
<line x1="456.92216746325767" y1="155.2" x2="456.92216746325767" y2="157.0" stroke="#333" stroke-width="0.6"/>
<line x1="459.2585218378329" y1="155.2" x2="459.2585218378329" y2="157.0" stroke="#333" stroke-width="0.6"/>
<line x1="461.07073908108356" y1="155.2" x2="461.07073908108356" y2="157.0" stroke="#333" stroke-width="0.6"/>
<line x1="462.55142838217415" y1="155.2" x2="462.55142838217415" y2="157.0" stroke="#333" stroke-width="0.6"/>
<line x1="463.8033333482666" y1="155.2" x2="463.8033333482666" y2="157.0" stroke="#333" stroke-width="0.6"/>
<line x1="464.88778275674935" y1="155.2" x2="464.88778275674935" y2="157.0" stroke="#333" stroke-width="0.6"/>
<line x1="465.8443349265154" y1="155.2" x2="465.8443349265154" y2="157.0" stroke="#333" stroke-width="0.6"/>
<line x1="472.3292609189165" y1="155.2" x2="472.3292609189165" y2="157.0" stroke="#333" stroke-width="0.6"/>
<line x1="475.6221674632577" y1="155.2" x2="475.6221674632577" y2="157.0" stroke="#333" stroke-width="0.6"/>
<line x1="477.95852183783296" y1="155.2" x2="477.95852183783296" y2="157.0" stroke="#333" stroke-width="0.6"/>
<line x1="479.7707390810836" y1="155.2" x2="479.7707390810836" y2="157.0" stroke="#333" stroke-width="0.6"/>
<line x1="481.2514283821742" y1="155.2" x2="481.2514283821742" y2="157.0" stroke="#333" stroke-width="0.6"/>
<line x1="482.50333334826666" y1="155.2" x2="482.50333334826666" y2="157.0" stroke="#333" stroke-width="0.6"/>
<line x1="483.5877827567494" y1="155.2" x2="483.5877827567494" y2="157.0" stroke="#333" stroke-width="0.6"/>
<line x1="484.54433492651543" y1="155.2" x2="484.54433492651543" y2="157.0" stroke="#333" stroke-width="0.6"/>
<line x1="491.02926091891646" y1="155.2" x2="491.02926091891646" y2="157.0" stroke="#333" stroke-width="0.6"/>
<line x1="494.3221674632577" y1="155.2" x2="494.3221674632577" y2="157.0" stroke="#333" stroke-width="0.6"/>
<line x1="496.65852183783295" y1="155.2" x2="496.65852183783295" y2="157.0" stroke="#333" stroke-width="0.6"/>
<line x1="498.4707390810836" y1="155.2" x2="498.4707390810836" y2="157.0" stroke="#333" stroke-width="0.6"/>
<line x1="499.9514283821742" y1="155.2" x2="499.9514283821742" y2="157.0" stroke="#333" stroke-width="0.6"/>
<line x1="501.20333334826665" y1="155.2" x2="501.20333334826665" y2="157.0" stroke="#333" stroke-width="0.6"/>
<line x1="502.2877827567494" y1="155.2" x2="502.2877827567494" y2="157.0" stroke="#333" stroke-width="0.6"/>
<line x1="503.2443349265154" y1="155.2" x2="503.2443349265154" y2="157.0" stroke="#333" stroke-width="0.6"/>
<line x1="429.3" y1="155.2" x2="429.3" y2="157.79999999999998" stroke="#111" stroke-width="0.9"/>
<line x1="448.0" y1="155.2" x2="448.0" y2="157.79999999999998" stroke="#111" stroke-width="0.9"/>
<line x1="466.70000000000005" y1="155.2" x2="466.70000000000005" y2="157.79999999999998" stroke="#111" stroke-width="0.9"/>
<line x1="485.40000000000003" y1="155.2" x2="485.40000000000003" y2="157.79999999999998" stroke="#111" stroke-width="0.9"/>
<line x1="504.1" y1="155.2" x2="504.1" y2="157.79999999999998" stroke="#111" stroke-width="0.9"/>
<text x="424.3" y="167.7" font-size="8.4" fill="#111" textLength="7.9" lengthAdjust="spacingAndGlyphs">10</text>
<text x="432.3" y="164.5" font-size="6.0" fill="#111">0</text>
<text x="443.0" y="167.7" font-size="8.4" fill="#111" textLength="7.9" lengthAdjust="spacingAndGlyphs">10</text>
<text x="451.0" y="164.5" font-size="6.0" fill="#111">1</text>
<text x="461.7" y="167.7" font-size="8.4" fill="#111" textLength="7.9" lengthAdjust="spacingAndGlyphs">10</text>
<text x="469.7" y="164.5" font-size="6.0" fill="#111">2</text>
<text x="480.4" y="167.7" font-size="8.4" fill="#111" textLength="7.9" lengthAdjust="spacingAndGlyphs">10</text>
<text x="488.4" y="164.5" font-size="6.0" fill="#111">3</text>
<text x="499.1" y="167.7" font-size="8.4" fill="#111" textLength="7.9" lengthAdjust="spacingAndGlyphs">10</text>
<text x="507.1" y="164.5" font-size="6.0" fill="#111">4</text>
<text x="338.4" y="69.3" font-size="8.3" text-anchor="end" fill="#111">d0</text>
<text x="338.4" y="83.8" font-size="8.3" text-anchor="end" fill="#111">d4</text>
<text x="338.4" y="98.8" font-size="8.3" text-anchor="end" fill="#111">d6</text>
<text x="338.4" y="113.5" font-size="8.3" text-anchor="end" fill="#111">d0</text>
<text x="338.4" y="127.8" font-size="8.3" text-anchor="end" fill="#111">d4</text>
<text x="338.4" y="142.2" font-size="8.3" text-anchor="end" fill="#111">d6</text>
<text x="394.1" y="149.8" font-size="8.8" text-anchor="middle" textLength="25.8" lengthAdjust="spacingAndGlyphs" fill="#111">isotype</text>
<line x1="367.2" y1="174.5" x2="400.6" y2="174.5" stroke="#111" stroke-width="1.5"/>
<text x="420.0" y="177.4" font-size="8.3" text-anchor="middle" textLength="31.6" lengthAdjust="spacingAndGlyphs" fill="#111">VCAM-1</text>
<line x1="439.4" y1="174.5" x2="476.0" y2="174.5" stroke="#111" stroke-width="1.5"/>
<polygon points="474.0,171.8 480.6,174.5 474.0,177.2" fill="#111"/>
<text x="423.5" y="207.2" font-size="9.5" text-anchor="middle" font-weight="bold" textLength="30.8" lengthAdjust="spacingAndGlyphs" fill="#000">F4/80+</text>
<line x1="408.1" y1="208.9" x2="438.6" y2="208.9" stroke="#000" stroke-width="0.9"/>
<text x="378.6" y="221.9" font-size="9.5" text-anchor="middle" font-weight="bold" textLength="15.9" lengthAdjust="spacingAndGlyphs" fill="#000">BM</text>
<text x="469.5" y="222.0" font-size="9.5" text-anchor="middle" font-weight="bold" textLength="32.8" lengthAdjust="spacingAndGlyphs" fill="#000">Spleen</text>
<rect x="341.90" y="226.30" width="28.20" height="116.70" fill="#E0E0E2"/>
<line x1="360.04999999999995" y1="226.3" x2="360.04999999999995" y2="343.0" stroke="#858585" stroke-width="1.2"/>
<line x1="378.2" y1="226.3" x2="378.2" y2="343.0" stroke="#858585" stroke-width="1.2"/>
<line x1="396.35" y1="226.3" x2="396.35" y2="343.0" stroke="#858585" stroke-width="1.2"/>
<path d="M341.9,254.2 C343.6,253.9 349.2,253.7 351.9,252.7 C354.6,251.7 356.4,249.9 358.0,248.1 C359.6,246.3 360.4,243.1 361.2,241.9 C362.0,240.8 361.9,241.2 362.7,241.2 C363.5,241.2 364.9,242.2 365.8,241.9 C366.7,241.6 367.3,240.6 368.1,239.6 C368.9,238.6 369.5,236.8 370.4,235.8 C371.3,234.8 372.6,233.5 373.5,233.5 C374.4,233.5 374.9,234.1 375.8,235.8 C376.7,237.5 377.7,241.4 378.8,243.5 C379.9,245.6 381.0,246.6 382.7,248.1 C384.4,249.6 386.8,251.2 388.8,252.3 C390.9,253.4 390.7,254.3 395.0,254.7 C399.3,255.1 411.2,254.8 414.5,254.8" fill="none" stroke="#921131" stroke-width="2.0" stroke-linejoin="round" stroke-linecap="butt"/>
<path d="M341.9,269.6 C343.3,269.5 348.0,269.6 350.4,268.8 C352.8,268.0 354.7,266.7 356.5,265.0 C358.3,263.3 359.9,259.4 361.2,258.8 C362.5,258.2 363.2,260.3 364.2,261.2 C365.2,262.1 366.3,264.1 367.3,264.2 C368.3,264.3 369.4,263.0 370.4,261.9 C371.4,260.8 372.3,259.0 373.2,257.3 C374.1,255.6 375.0,252.0 375.8,251.9 C376.6,251.8 377.2,255.2 378.1,256.5 C379.0,257.8 379.9,258.8 381.2,259.6 C382.5,260.4 384.5,260.3 385.8,261.2 C387.1,262.1 387.5,263.7 388.8,265.0 C390.1,266.3 389.2,268.0 393.5,268.8 C397.8,269.6 411.0,269.5 414.5,269.6" fill="none" stroke="#921131" stroke-width="2.0" stroke-linejoin="round" stroke-linecap="butt"/>
<path d="M341.9,284.2 C343.6,283.9 349.2,283.5 351.9,282.7 C354.6,281.9 356.4,280.9 358.0,279.6 C359.6,278.3 360.2,276.1 361.2,275.0 C362.2,273.9 363.3,273.3 364.2,272.7 C365.1,272.1 365.9,272.2 366.5,271.2 C367.1,270.2 367.3,268.1 368.1,266.5 C368.9,264.9 370.4,262.9 371.2,261.9 C372.0,260.9 372.4,259.4 373.2,260.4 C374.0,261.4 374.9,265.5 375.8,268.1 C376.7,270.7 377.4,273.8 378.8,275.8 C380.2,277.9 382.3,279.1 384.2,280.4 C386.1,281.7 385.3,283.2 390.4,283.8 C395.4,284.4 410.5,284.1 414.5,284.2" fill="none" stroke="#921131" stroke-width="2.0" stroke-linejoin="round" stroke-linecap="butt"/>
<path d="M341.9,296.5 C343.3,295.6 348.2,293.1 350.4,291.2 C352.6,289.3 353.7,286.8 355.0,285.0 C356.3,283.2 357.2,281.5 358.0,280.4 C358.8,279.2 359.1,277.9 359.9,278.1 C360.7,278.4 361.7,280.0 362.7,281.9 C363.7,283.8 364.5,287.4 365.8,289.6 C367.1,291.8 368.6,293.6 370.4,295.0 C372.2,296.4 369.1,297.5 376.5,298.1 C383.9,298.7 408.2,298.7 414.5,298.8" fill="none" stroke="#D8B486" stroke-width="2.0" stroke-linejoin="round" stroke-linecap="butt"/>
<path d="M341.9,310.4 C343.3,309.5 348.1,307.2 350.4,305.0 C352.7,302.8 354.2,299.6 355.8,297.3 C357.4,295.0 358.8,291.2 359.9,291.2 C361.0,291.2 361.7,295.1 362.7,297.3 C363.7,299.5 364.5,302.1 365.8,304.2 C367.1,306.2 368.9,308.3 370.4,309.6 C371.9,310.9 367.6,311.4 375.0,311.9 C382.4,312.4 407.9,312.6 414.5,312.7" fill="none" stroke="#D8B486" stroke-width="2.0" stroke-linejoin="round" stroke-linecap="butt"/>
<path d="M341.9,326.2 C343.3,325.4 348.0,323.4 350.4,321.5 C352.8,319.6 354.8,316.8 356.5,314.6 C358.2,312.4 359.4,308.6 360.4,308.5 C361.4,308.4 361.8,311.8 362.7,313.8 C363.6,315.9 364.3,318.7 365.8,320.8 C367.3,322.9 363.8,325.1 371.9,326.2 C380.0,327.3 407.4,327.4 414.5,327.7" fill="none" stroke="#D8B486" stroke-width="2.0" stroke-linejoin="round" stroke-linecap="butt"/>
<polyline points="342.5,339.2 348.8,336.2 353.5,328.5 358.0,319.2 361.2,326.9 365.0,337.7 368.1,340.8 414.5,341.2" fill="none" stroke="#111" stroke-width="1.5" stroke-dasharray="3,2"/>
<rect x="341.9" y="226.3" width="72.60" height="116.70" fill="none" stroke="#2a2a2a" stroke-width="1.2"/>
<line x1="341.29999999999995" y1="343.0" x2="415.1" y2="343.0" stroke="#111" stroke-width="1.5"/>
<line x1="347.36369442130126" y1="343.0" x2="347.36369442130126" y2="344.8" stroke="#333" stroke-width="0.6"/>
<line x1="350.55975077316185" y1="343.0" x2="350.55975077316185" y2="344.8" stroke="#333" stroke-width="0.6"/>
<line x1="352.8273888426025" y1="343.0" x2="352.8273888426025" y2="344.8" stroke="#333" stroke-width="0.6"/>
<line x1="354.5863055786987" y1="343.0" x2="354.5863055786987" y2="344.8" stroke="#333" stroke-width="0.6"/>
<line x1="356.02344519446314" y1="343.0" x2="356.02344519446314" y2="344.8" stroke="#333" stroke-width="0.6"/>
<line x1="357.23852942625876" y1="343.0" x2="357.23852942625876" y2="344.8" stroke="#333" stroke-width="0.6"/>
<line x1="358.2910832639038" y1="343.0" x2="358.2910832639038" y2="344.8" stroke="#333" stroke-width="0.6"/>
<line x1="359.2195015463237" y1="343.0" x2="359.2195015463237" y2="344.8" stroke="#333" stroke-width="0.6"/>
<line x1="365.51369442130124" y1="343.0" x2="365.51369442130124" y2="344.8" stroke="#333" stroke-width="0.6"/>
<line x1="368.70975077316183" y1="343.0" x2="368.70975077316183" y2="344.8" stroke="#333" stroke-width="0.6"/>
<line x1="370.97738884260247" y1="343.0" x2="370.97738884260247" y2="344.8" stroke="#333" stroke-width="0.6"/>
<line x1="372.7363055786987" y1="343.0" x2="372.7363055786987" y2="344.8" stroke="#333" stroke-width="0.6"/>
<line x1="374.1734451944631" y1="343.0" x2="374.1734451944631" y2="344.8" stroke="#333" stroke-width="0.6"/>
<line x1="375.38852942625874" y1="343.0" x2="375.38852942625874" y2="344.8" stroke="#333" stroke-width="0.6"/>
<line x1="376.44108326390375" y1="343.0" x2="376.44108326390375" y2="344.8" stroke="#333" stroke-width="0.6"/>
<line x1="377.3695015463237" y1="343.0" x2="377.3695015463237" y2="344.8" stroke="#333" stroke-width="0.6"/>
<line x1="383.6636944213013" y1="343.0" x2="383.6636944213013" y2="344.8" stroke="#333" stroke-width="0.6"/>
<line x1="386.85975077316186" y1="343.0" x2="386.85975077316186" y2="344.8" stroke="#333" stroke-width="0.6"/>
<line x1="389.1273888426025" y1="343.0" x2="389.1273888426025" y2="344.8" stroke="#333" stroke-width="0.6"/>
<line x1="390.88630557869874" y1="343.0" x2="390.88630557869874" y2="344.8" stroke="#333" stroke-width="0.6"/>
<line x1="392.32344519446315" y1="343.0" x2="392.32344519446315" y2="344.8" stroke="#333" stroke-width="0.6"/>
<line x1="393.5385294262588" y1="343.0" x2="393.5385294262588" y2="344.8" stroke="#333" stroke-width="0.6"/>
<line x1="394.5910832639038" y1="343.0" x2="394.5910832639038" y2="344.8" stroke="#333" stroke-width="0.6"/>
<line x1="395.51950154632374" y1="343.0" x2="395.51950154632374" y2="344.8" stroke="#333" stroke-width="0.6"/>
<line x1="401.8136944213013" y1="343.0" x2="401.8136944213013" y2="344.8" stroke="#333" stroke-width="0.6"/>
<line x1="405.0097507731619" y1="343.0" x2="405.0097507731619" y2="344.8" stroke="#333" stroke-width="0.6"/>
<line x1="407.27738884260253" y1="343.0" x2="407.27738884260253" y2="344.8" stroke="#333" stroke-width="0.6"/>
<line x1="409.0363055786988" y1="343.0" x2="409.0363055786988" y2="344.8" stroke="#333" stroke-width="0.6"/>
<line x1="410.4734451944632" y1="343.0" x2="410.4734451944632" y2="344.8" stroke="#333" stroke-width="0.6"/>
<line x1="411.6885294262588" y1="343.0" x2="411.6885294262588" y2="344.8" stroke="#333" stroke-width="0.6"/>
<line x1="412.7410832639038" y1="343.0" x2="412.7410832639038" y2="344.8" stroke="#333" stroke-width="0.6"/>
<line x1="413.6695015463238" y1="343.0" x2="413.6695015463238" y2="344.8" stroke="#333" stroke-width="0.6"/>
<line x1="341.9" y1="343.0" x2="341.9" y2="345.6" stroke="#111" stroke-width="0.9"/>
<line x1="360.04999999999995" y1="343.0" x2="360.04999999999995" y2="345.6" stroke="#111" stroke-width="0.9"/>
<line x1="378.2" y1="343.0" x2="378.2" y2="345.6" stroke="#111" stroke-width="0.9"/>
<line x1="396.35" y1="343.0" x2="396.35" y2="345.6" stroke="#111" stroke-width="0.9"/>
<line x1="414.5" y1="343.0" x2="414.5" y2="345.6" stroke="#111" stroke-width="0.9"/>
<text x="337.3" y="355.0" font-size="8.4" fill="#111" textLength="7.9" lengthAdjust="spacingAndGlyphs">10</text>
<text x="345.3" y="351.8" font-size="6.0" fill="#111">0</text>
<text x="355.4" y="355.0" font-size="8.4" fill="#111" textLength="7.9" lengthAdjust="spacingAndGlyphs">10</text>
<text x="363.4" y="351.8" font-size="6.0" fill="#111">1</text>
<text x="373.6" y="355.0" font-size="8.4" fill="#111" textLength="7.9" lengthAdjust="spacingAndGlyphs">10</text>
<text x="381.6" y="351.8" font-size="6.0" fill="#111">2</text>
<text x="391.8" y="355.0" font-size="8.4" fill="#111" textLength="7.9" lengthAdjust="spacingAndGlyphs">10</text>
<text x="399.8" y="351.8" font-size="6.0" fill="#111">3</text>
<text x="409.9" y="355.0" font-size="8.4" fill="#111" textLength="7.9" lengthAdjust="spacingAndGlyphs">10</text>
<text x="417.9" y="351.8" font-size="6.0" fill="#111">4</text>
<rect x="432.30" y="226.10" width="25.40" height="116.40" fill="#E0E0E2"/>
<line x1="450.925" y1="226.1" x2="450.925" y2="342.5" stroke="#858585" stroke-width="1.2"/>
<line x1="469.55" y1="226.1" x2="469.55" y2="342.5" stroke="#858585" stroke-width="1.2"/>
<line x1="488.175" y1="226.1" x2="488.175" y2="342.5" stroke="#858585" stroke-width="1.2"/>
<path d="M432.3,254.9 C434.1,254.7 440.5,254.4 443.0,253.8 C445.5,253.2 445.7,252.4 447.1,251.4 C448.5,250.4 450.0,249.1 451.2,248.1 C452.4,247.1 453.3,246.5 454.4,245.7 C455.5,244.9 456.7,244.1 457.7,243.2 C458.7,242.2 459.7,241.2 460.6,240.0 C461.6,238.8 462.5,235.6 463.4,235.9 C464.3,236.2 464.9,240.0 465.9,241.6 C466.8,243.2 467.8,244.6 469.1,245.7 C470.5,246.8 472.1,247.1 474.0,248.1 C475.9,249.1 478.4,250.4 480.6,251.4 C482.8,252.4 485.2,253.2 487.1,253.8 C489.0,254.4 488.7,255.0 492.0,255.2 C495.3,255.4 504.3,255.2 506.8,255.2" fill="none" stroke="#921131" stroke-width="2.0" stroke-linejoin="round" stroke-linecap="butt"/>
<path d="M432.3,269.4 C435.2,269.3 445.8,269.0 449.5,268.6 C453.2,268.2 452.8,268.0 454.4,266.9 C456.0,265.8 457.9,263.6 459.3,262.0 C460.7,260.4 461.4,258.9 462.6,257.1 C463.8,255.3 465.8,252.0 466.7,251.4 C467.6,250.8 467.5,252.6 468.3,253.8 C469.1,255.0 470.4,257.1 471.6,258.7 C472.8,260.3 473.9,262.2 475.7,263.7 C477.5,265.2 480.0,266.8 482.2,267.7 C484.4,268.6 484.6,269.1 488.7,269.4 C492.8,269.7 503.8,269.4 506.8,269.4" fill="none" stroke="#921131" stroke-width="2.0" stroke-linejoin="round" stroke-linecap="butt"/>
<path d="M432.3,284.4 C435.4,284.3 447.4,284.9 451.2,284.1 C455.0,283.3 454.0,281.1 455.2,279.5 C456.4,277.9 457.6,276.5 458.5,274.6 C459.4,272.7 459.9,270.0 460.6,268.1 C461.3,266.2 461.9,263.8 462.6,263.2 C463.3,262.6 463.9,263.4 464.6,264.8 C465.3,266.2 465.8,269.4 466.7,271.3 C467.6,273.2 468.5,274.6 470.0,276.2 C471.5,277.8 473.7,280.0 475.7,281.2 C477.7,282.4 477.0,283.1 482.2,283.6 C487.4,284.1 502.7,284.3 506.8,284.4" fill="none" stroke="#921131" stroke-width="2.0" stroke-linejoin="round" stroke-linecap="butt"/>
<path d="M432.3,296.7 C433.3,296.3 436.3,295.3 438.1,294.2 C439.9,293.1 441.5,291.6 443.0,290.1 C444.5,288.6 446.0,286.4 447.1,285.2 C448.2,284.0 448.7,282.6 449.5,282.8 C450.3,283.0 450.9,284.9 452.0,286.1 C453.1,287.3 454.6,288.9 456.1,290.1 C457.6,291.3 458.8,292.1 461.0,293.4 C463.2,294.7 461.5,296.9 469.1,297.9 C476.7,298.9 500.5,299.0 506.8,299.2" fill="none" stroke="#D8B486" stroke-width="2.0" stroke-linejoin="round" stroke-linecap="butt"/>
<path d="M432.3,311.4 C433.8,310.8 438.8,309.6 441.3,308.1 C443.8,306.6 445.6,304.2 447.1,302.4 C448.6,300.6 449.1,299.4 450.3,297.5 C451.5,295.6 453.1,291.0 454.1,291.0 C455.1,291.0 455.2,295.7 456.1,297.5 C457.0,299.3 458.2,300.5 459.3,301.6 C460.4,302.7 461.4,303.2 462.6,304.0 C463.8,304.8 465.1,305.4 466.7,306.5 C468.3,307.6 470.4,309.5 472.4,310.6 C474.4,311.7 473.2,312.4 478.9,312.9 C484.6,313.4 502.1,313.5 506.8,313.6" fill="none" stroke="#D8B486" stroke-width="2.0" stroke-linejoin="round" stroke-linecap="butt"/>
<path d="M432.3,326.1 C433.5,325.6 437.6,324.0 439.7,322.8 C441.8,321.6 443.1,320.2 444.6,318.7 C446.1,317.2 447.6,315.0 448.7,313.8 C449.8,312.6 450.7,311.0 451.5,311.4 C452.3,311.8 452.6,314.9 453.6,316.3 C454.6,317.7 455.9,318.4 457.7,319.6 C459.5,320.8 461.8,322.3 464.2,323.6 C466.6,324.9 465.3,326.5 472.4,327.3 C479.5,328.1 501.1,328.1 506.8,328.2" fill="none" stroke="#D8B486" stroke-width="2.0" stroke-linejoin="round" stroke-linecap="butt"/>
<polyline points="432.8,340.4 437.3,339.4 441.2,334.6 445.0,326.9 448.8,322.1 450.8,322.1 453.7,328.8 456.5,337.5 459.4,340.8 506.8,341.2" fill="none" stroke="#111" stroke-width="1.5" stroke-dasharray="3,2"/>
<rect x="432.3" y="226.1" width="74.50" height="116.40" fill="none" stroke="#2a2a2a" stroke-width="1.2"/>
<line x1="431.7" y1="342.5" x2="507.40000000000003" y2="342.5" stroke="#111" stroke-width="1.5"/>
<line x1="437.90668366924166" y1="342.5" x2="437.90668366924166" y2="344.3" stroke="#333" stroke-width="0.6"/>
<line x1="441.1863833691537" y1="342.5" x2="441.1863833691537" y2="344.3" stroke="#333" stroke-width="0.6"/>
<line x1="443.5133673384833" y1="342.5" x2="443.5133673384833" y2="344.3" stroke="#333" stroke-width="0.6"/>
<line x1="445.31831633075836" y1="342.5" x2="445.31831633075836" y2="344.3" stroke="#333" stroke-width="0.6"/>
<line x1="446.79306703839535" y1="342.5" x2="446.79306703839535" y2="344.3" stroke="#333" stroke-width="0.6"/>
<line x1="448.03995099526554" y1="342.5" x2="448.03995099526554" y2="344.3" stroke="#333" stroke-width="0.6"/>
<line x1="449.12005100772495" y1="342.5" x2="449.12005100772495" y2="344.3" stroke="#333" stroke-width="0.6"/>
<line x1="450.07276673830745" y1="342.5" x2="450.07276673830745" y2="344.3" stroke="#333" stroke-width="0.6"/>
<line x1="456.53168366924166" y1="342.5" x2="456.53168366924166" y2="344.3" stroke="#333" stroke-width="0.6"/>
<line x1="459.8113833691537" y1="342.5" x2="459.8113833691537" y2="344.3" stroke="#333" stroke-width="0.6"/>
<line x1="462.1383673384833" y1="342.5" x2="462.1383673384833" y2="344.3" stroke="#333" stroke-width="0.6"/>
<line x1="463.94331633075836" y1="342.5" x2="463.94331633075836" y2="344.3" stroke="#333" stroke-width="0.6"/>
<line x1="465.41806703839535" y1="342.5" x2="465.41806703839535" y2="344.3" stroke="#333" stroke-width="0.6"/>
<line x1="466.66495099526554" y1="342.5" x2="466.66495099526554" y2="344.3" stroke="#333" stroke-width="0.6"/>
<line x1="467.74505100772495" y1="342.5" x2="467.74505100772495" y2="344.3" stroke="#333" stroke-width="0.6"/>
<line x1="468.69776673830745" y1="342.5" x2="468.69776673830745" y2="344.3" stroke="#333" stroke-width="0.6"/>
<line x1="475.15668366924166" y1="342.5" x2="475.15668366924166" y2="344.3" stroke="#333" stroke-width="0.6"/>
<line x1="478.4363833691537" y1="342.5" x2="478.4363833691537" y2="344.3" stroke="#333" stroke-width="0.6"/>
<line x1="480.7633673384833" y1="342.5" x2="480.7633673384833" y2="344.3" stroke="#333" stroke-width="0.6"/>
<line x1="482.56831633075836" y1="342.5" x2="482.56831633075836" y2="344.3" stroke="#333" stroke-width="0.6"/>
<line x1="484.04306703839535" y1="342.5" x2="484.04306703839535" y2="344.3" stroke="#333" stroke-width="0.6"/>
<line x1="485.28995099526554" y1="342.5" x2="485.28995099526554" y2="344.3" stroke="#333" stroke-width="0.6"/>
<line x1="486.37005100772495" y1="342.5" x2="486.37005100772495" y2="344.3" stroke="#333" stroke-width="0.6"/>
<line x1="487.32276673830745" y1="342.5" x2="487.32276673830745" y2="344.3" stroke="#333" stroke-width="0.6"/>
<line x1="493.78168366924166" y1="342.5" x2="493.78168366924166" y2="344.3" stroke="#333" stroke-width="0.6"/>
<line x1="497.0613833691537" y1="342.5" x2="497.0613833691537" y2="344.3" stroke="#333" stroke-width="0.6"/>
<line x1="499.3883673384833" y1="342.5" x2="499.3883673384833" y2="344.3" stroke="#333" stroke-width="0.6"/>
<line x1="501.19331633075836" y1="342.5" x2="501.19331633075836" y2="344.3" stroke="#333" stroke-width="0.6"/>
<line x1="502.66806703839535" y1="342.5" x2="502.66806703839535" y2="344.3" stroke="#333" stroke-width="0.6"/>
<line x1="503.91495099526554" y1="342.5" x2="503.91495099526554" y2="344.3" stroke="#333" stroke-width="0.6"/>
<line x1="504.99505100772495" y1="342.5" x2="504.99505100772495" y2="344.3" stroke="#333" stroke-width="0.6"/>
<line x1="505.94776673830745" y1="342.5" x2="505.94776673830745" y2="344.3" stroke="#333" stroke-width="0.6"/>
<line x1="432.3" y1="342.5" x2="432.3" y2="345.1" stroke="#111" stroke-width="0.9"/>
<line x1="450.925" y1="342.5" x2="450.925" y2="345.1" stroke="#111" stroke-width="0.9"/>
<line x1="469.55" y1="342.5" x2="469.55" y2="345.1" stroke="#111" stroke-width="0.9"/>
<line x1="488.175" y1="342.5" x2="488.175" y2="345.1" stroke="#111" stroke-width="0.9"/>
<line x1="506.8" y1="342.5" x2="506.8" y2="345.1" stroke="#111" stroke-width="0.9"/>
<text x="426.5" y="355.0" font-size="8.4" fill="#111" textLength="7.9" lengthAdjust="spacingAndGlyphs">10</text>
<text x="434.5" y="351.8" font-size="6.0" fill="#111">0</text>
<text x="445.1" y="355.0" font-size="8.4" fill="#111" textLength="7.9" lengthAdjust="spacingAndGlyphs">10</text>
<text x="453.1" y="351.8" font-size="6.0" fill="#111">1</text>
<text x="463.8" y="355.0" font-size="8.4" fill="#111" textLength="7.9" lengthAdjust="spacingAndGlyphs">10</text>
<text x="471.8" y="351.8" font-size="6.0" fill="#111">2</text>
<text x="482.4" y="355.0" font-size="8.4" fill="#111" textLength="7.9" lengthAdjust="spacingAndGlyphs">10</text>
<text x="490.4" y="351.8" font-size="6.0" fill="#111">3</text>
<text x="501.0" y="355.0" font-size="8.4" fill="#111" textLength="7.9" lengthAdjust="spacingAndGlyphs">10</text>
<text x="509.0" y="351.8" font-size="6.0" fill="#111">4</text>
<text x="339.4" y="257.3" font-size="8.3" text-anchor="end" fill="#111">d0</text>
<text x="339.4" y="272.1" font-size="8.3" text-anchor="end" fill="#111">d4</text>
<text x="339.4" y="286.2" font-size="8.3" text-anchor="end" fill="#111">d6</text>
<text x="339.4" y="300.9" font-size="8.3" text-anchor="end" fill="#111">d0</text>
<text x="339.4" y="315.5" font-size="8.3" text-anchor="end" fill="#111">d4</text>
<text x="339.4" y="329.6" font-size="8.3" text-anchor="end" fill="#111">d6</text>
<text x="396.2" y="338.1" font-size="8.8" text-anchor="middle" textLength="26.9" lengthAdjust="spacingAndGlyphs" fill="#111">isotype</text>
<line x1="367.7" y1="361.8" x2="400.6" y2="361.8" stroke="#111" stroke-width="1.5"/>
<text x="419.1" y="364.7" font-size="8.3" text-anchor="middle" textLength="30.6" lengthAdjust="spacingAndGlyphs" fill="#111">VCAM-1</text>
<line x1="439.4" y1="361.8" x2="476.5" y2="361.8" stroke="#111" stroke-width="1.5"/>
<polygon points="474.4,359.1 481.0,361.8 474.4,364.5" fill="#111"/>
<text x="11.5" y="396.8" font-size="11.5" font-weight="bold" fill="#000">C</text>
<text x="102.1" y="396.8" font-size="9.5" text-anchor="middle" font-weight="bold" textLength="30.7" lengthAdjust="spacingAndGlyphs" fill="#000">Femur</text>
<text x="256.2" y="396.8" font-size="9.5" text-anchor="middle" font-weight="bold" textLength="32.6" lengthAdjust="spacingAndGlyphs" fill="#000">Spleen</text>
<text x="19.7" y="462.5" font-size="9.4" text-anchor="middle" textLength="75.6" lengthAdjust="spacing" transform="rotate(-90 19.7 462.5)" fill="#111">F4/80+ cell number</text>
<text x="32.0" y="463.0" font-size="9.4" text-anchor="middle" textLength="24.8" lengthAdjust="spacing" transform="rotate(-90 32.0 463.0)" fill="#111">x10E8</text>
<line x1="49.3" y1="402.5" x2="49.3" y2="520.5" stroke="#151515" stroke-width="1.3"/>
<line x1="46.099999999999994" y1="520.0" x2="49.3" y2="520.0" stroke="#151515" stroke-width="1.2"/>
<text x="43.6" y="523.05" font-size="8.5" text-anchor="end" fill="#111">0</text>
<line x1="46.099999999999994" y1="497.1" x2="49.3" y2="497.1" stroke="#151515" stroke-width="1.2"/>
<text x="43.6" y="500.15000000000003" font-size="8.5" text-anchor="end" fill="#111">2</text>
<line x1="46.099999999999994" y1="474.2" x2="49.3" y2="474.2" stroke="#151515" stroke-width="1.2"/>
<text x="43.6" y="477.25" font-size="8.5" text-anchor="end" fill="#111">4</text>
<line x1="46.099999999999994" y1="451.3" x2="49.3" y2="451.3" stroke="#151515" stroke-width="1.2"/>
<text x="43.6" y="454.35" font-size="8.5" text-anchor="end" fill="#111">6</text>
<line x1="46.099999999999994" y1="428.4" x2="49.3" y2="428.4" stroke="#151515" stroke-width="1.2"/>
<text x="43.6" y="431.45" font-size="8.5" text-anchor="end" fill="#111">8</text>
<line x1="46.099999999999994" y1="405.5" x2="49.3" y2="405.5" stroke="#151515" stroke-width="1.2"/>
<text x="43.6" y="408.55" font-size="8.5" text-anchor="end" fill="#111">10</text>
<rect x="50.60" y="421.50" width="13.90" height="67.20" fill="url(#hRU)"/>
<rect x="50.60" y="488.70" width="13.90" height="31.30" fill="url(#hRL)"/>
<line x1="57.550000000000004" y1="417.2" x2="57.550000000000004" y2="421.5" stroke="#1a0a0a" stroke-width="1.0"/>
<line x1="55.150000000000006" y1="417.2" x2="59.95" y2="417.2" stroke="#1a0a0a" stroke-width="1.1"/>
<line x1="56.45" y1="488.7" x2="58.650000000000006" y2="488.7" stroke="#300" stroke-width="1.2"/>
<rect x="67.00" y="457.50" width="13.90" height="47.20" fill="url(#hRU)"/>
<rect x="67.00" y="504.70" width="13.90" height="15.30" fill="url(#hRL)"/>
<line x1="73.95" y1="453.6" x2="73.95" y2="457.5" stroke="#1a0a0a" stroke-width="1.0"/>
<line x1="71.55" y1="453.6" x2="76.35000000000001" y2="453.6" stroke="#1a0a0a" stroke-width="1.1"/>
<line x1="72.85000000000001" y1="504.7" x2="75.05" y2="504.7" stroke="#300" stroke-width="1.2"/>
<rect x="83.10" y="445.60" width="13.90" height="41.90" fill="url(#hRU)"/>
<rect x="83.10" y="487.50" width="13.90" height="32.50" fill="url(#hRL)"/>
<line x1="90.05" y1="440.6" x2="90.05" y2="445.6" stroke="#1a0a0a" stroke-width="1.0"/>
<line x1="87.64999999999999" y1="440.6" x2="92.45" y2="440.6" stroke="#1a0a0a" stroke-width="1.1"/>
<line x1="88.95" y1="487.5" x2="91.14999999999999" y2="487.5" stroke="#300" stroke-width="1.2"/>
<rect x="108.90" y="453.40" width="14.00" height="52.30" fill="url(#hOU)"/>
<rect x="108.90" y="505.70" width="14.00" height="14.30" fill="url(#hOL)"/>
<line x1="115.9" y1="449.8" x2="115.9" y2="453.4" stroke="#1a0a0a" stroke-width="1.0"/>
<line x1="113.5" y1="449.8" x2="118.30000000000001" y2="449.8" stroke="#1a0a0a" stroke-width="1.1"/>
<line x1="114.80000000000001" y1="505.7" x2="117.0" y2="505.7" stroke="#111" stroke-width="1.2"/>
<circle cx="115.9" cy="444.4" r="1.1" fill="#111"/>
<rect x="124.30" y="477.20" width="14.00" height="32.10" fill="url(#hOU)"/>
<rect x="124.30" y="509.30" width="14.00" height="10.70" fill="url(#hOL)"/>
<line x1="131.3" y1="473.2" x2="131.3" y2="477.2" stroke="#1a0a0a" stroke-width="1.0"/>
<line x1="128.9" y1="473.2" x2="133.70000000000002" y2="473.2" stroke="#1a0a0a" stroke-width="1.1"/>
<line x1="130.20000000000002" y1="509.3" x2="132.4" y2="509.3" stroke="#111" stroke-width="1.2"/>
<rect x="139.90" y="488.90" width="14.00" height="20.40" fill="url(#hOU)"/>
<rect x="139.90" y="509.30" width="14.00" height="10.70" fill="url(#hOL)"/>
<line x1="146.9" y1="480.1" x2="146.9" y2="488.9" stroke="#1a0a0a" stroke-width="1.0"/>
<line x1="144.5" y1="480.1" x2="149.3" y2="480.1" stroke="#1a0a0a" stroke-width="1.1"/>
<line x1="145.8" y1="509.3" x2="148.0" y2="509.3" stroke="#111" stroke-width="1.2"/>
<circle cx="146.9" cy="473.8" r="1.1" fill="#111"/>
<text x="57.6" y="529.6" font-size="8.3" text-anchor="middle" fill="#111">d0</text>
<text x="73.9" y="529.6" font-size="8.3" text-anchor="middle" fill="#111">d4</text>
<text x="90.1" y="529.6" font-size="8.3" text-anchor="middle" fill="#111">d6</text>
<text x="115.9" y="529.6" font-size="8.3" text-anchor="middle" fill="#111">d0</text>
<text x="131.3" y="529.6" font-size="8.3" text-anchor="middle" fill="#111">d4</text>
<text x="146.9" y="529.6" font-size="8.3" text-anchor="middle" fill="#111">d6</text>
<text x="73.6" y="546.6" font-size="8.3" text-anchor="middle" textLength="24.9" lengthAdjust="spacingAndGlyphs" fill="#111">Ctrl Tx</text>
<text x="129.7" y="546.6" font-size="8.3" text-anchor="middle" textLength="43.8" lengthAdjust="spacingAndGlyphs" fill="#111">VCAM-1 Tx</text>
<text x="7.4" y="524.2" font-size="8.3" textLength="18.8" lengthAdjust="spacingAndGlyphs" fill="#111">Days</text>
<text x="6.9" y="534.6" font-size="8.3" textLength="38.5" lengthAdjust="spacingAndGlyphs" fill="#111">after PHZ:</text>
<line x1="202.8" y1="407.8" x2="202.8" y2="520.5" stroke="#151515" stroke-width="1.3"/>
<line x1="199.60000000000002" y1="520.0" x2="202.8" y2="520.0" stroke="#151515" stroke-width="1.2"/>
<text x="197.1" y="523.05" font-size="8.5" text-anchor="end" fill="#111">0</text>
<line x1="199.60000000000002" y1="501.85" x2="202.8" y2="501.85" stroke="#151515" stroke-width="1.2"/>
<text x="197.1" y="504.90000000000003" font-size="8.5" text-anchor="end" fill="#111">15</text>
<line x1="199.60000000000002" y1="483.7" x2="202.8" y2="483.7" stroke="#151515" stroke-width="1.2"/>
<text x="197.1" y="486.75" font-size="8.5" text-anchor="end" fill="#111">30</text>
<line x1="199.60000000000002" y1="465.55" x2="202.8" y2="465.55" stroke="#151515" stroke-width="1.2"/>
<text x="197.1" y="468.6" font-size="8.5" text-anchor="end" fill="#111">45</text>
<line x1="199.60000000000002" y1="447.4" x2="202.8" y2="447.4" stroke="#151515" stroke-width="1.2"/>
<text x="197.1" y="450.45" font-size="8.5" text-anchor="end" fill="#111">60</text>
<line x1="199.60000000000002" y1="429.25" x2="202.8" y2="429.25" stroke="#151515" stroke-width="1.2"/>
<text x="197.1" y="432.3" font-size="8.5" text-anchor="end" fill="#111">75</text>
<line x1="199.60000000000002" y1="411.1" x2="202.8" y2="411.1" stroke="#151515" stroke-width="1.2"/>
<text x="197.1" y="414.15000000000003" font-size="8.5" text-anchor="end" fill="#111">90</text>
<rect x="204.50" y="503.50" width="14.20" height="6.20" fill="url(#hRU)"/>
<rect x="204.50" y="509.70" width="14.20" height="10.30" fill="url(#hRL)"/>
<rect x="221.20" y="500.00" width="14.20" height="4.60" fill="url(#hRU)"/>
<rect x="221.20" y="504.60" width="14.20" height="15.40" fill="url(#hRL)"/>
<rect x="237.60" y="422.90" width="14.20" height="3.30" fill="url(#hRU)"/>
<rect x="237.60" y="426.20" width="14.20" height="93.80" fill="url(#hRL)"/>
<ellipse cx="211.6" cy="503.4" rx="1.8" ry="0.9" fill="#200"/>
<line x1="210.4" y1="510.8" x2="212.8" y2="510.8" stroke="#200" stroke-width="1.3"/>
<line x1="211.6" y1="509.7" x2="211.6" y2="511.2" stroke="#200" stroke-width="1.0"/>
<ellipse cx="228.2" cy="499.8" rx="1.8" ry="0.9" fill="#200"/>
<line x1="227.0" y1="506.2" x2="229.4" y2="506.2" stroke="#200" stroke-width="1.3"/>
<line x1="228.2" y1="504.6" x2="228.2" y2="506.4" stroke="#200" stroke-width="1.0"/>
<ellipse cx="244.7" cy="422.6" rx="1.8" ry="0.9" fill="#200"/>
<line x1="243.5" y1="428.2" x2="245.9" y2="428.2" stroke="#200" stroke-width="1.3"/>
<line x1="244.7" y1="426.2" x2="244.7" y2="428.4" stroke="#200" stroke-width="1.0"/>
<rect x="261.40" y="502.80" width="14.30" height="6.50" fill="url(#hOU)"/>
<rect x="261.40" y="509.30" width="14.30" height="10.70" fill="url(#hOL)"/>
<rect x="278.10" y="514.20" width="14.30" height="2.40" fill="url(#hOU)"/>
<rect x="278.10" y="516.60" width="14.30" height="3.40" fill="url(#hOL)"/>
<rect x="294.90" y="499.30" width="14.30" height="5.20" fill="url(#hOU)"/>
<rect x="294.90" y="504.50" width="14.30" height="15.50" fill="url(#hOL)"/>
<line x1="268.6" y1="503.5" x2="268.6" y2="509.0" stroke="#111" stroke-width="1.0"/>
<line x1="267.0" y1="509.0" x2="270.2" y2="509.0" stroke="#111" stroke-width="1.3"/>
<line x1="285.2" y1="514.0" x2="285.2" y2="518.0" stroke="#111" stroke-width="1.0"/>
<line x1="283.6" y1="514.2" x2="286.8" y2="514.2" stroke="#111" stroke-width="1.3"/>
<line x1="302.0" y1="499.2" x2="302.0" y2="504.4" stroke="#111" stroke-width="1.0"/>
<line x1="300.2" y1="504.4" x2="303.8" y2="504.4" stroke="#111" stroke-width="1.3"/>
<line x1="300.2" y1="499.2" x2="303.8" y2="499.2" stroke="#111" stroke-width="1.3"/>
<circle cx="285.3" cy="508.0" r="1.1" fill="#111"/>
<circle cx="301.9" cy="493.4" r="1.1" fill="#111"/>
<text x="211.9" y="530.4" font-size="8.3" text-anchor="middle" fill="#111">d0</text>
<text x="228.1" y="530.4" font-size="8.3" text-anchor="middle" fill="#111">d4</text>
<text x="244.2" y="530.4" font-size="8.3" text-anchor="middle" fill="#111">d6</text>
<text x="269.7" y="530.4" font-size="8.3" text-anchor="middle" fill="#111">d0</text>
<text x="285.1" y="530.4" font-size="8.3" text-anchor="middle" fill="#111">d4</text>
<text x="301.5" y="530.4" font-size="8.3" text-anchor="middle" fill="#111">d6</text>
<text x="227.3" y="546.1" font-size="8.3" text-anchor="middle" textLength="24.9" lengthAdjust="spacingAndGlyphs" fill="#111">Ctrl Tx</text>
<text x="284.4" y="546.1" font-size="8.3" text-anchor="middle" textLength="42.6" lengthAdjust="spacingAndGlyphs" fill="#111">VCAM-1 Tx</text>
<line x1="48.7" y1="153.3" x2="120.5" y2="153.3" stroke="#151515" stroke-width="1.3"/>
<line x1="123.9" y1="153.3" x2="173.4" y2="153.3" stroke="#151515" stroke-width="1.3"/>
<line x1="58.8" y1="168.2" x2="113.1" y2="168.2" stroke="#151515" stroke-width="1.3"/>
<line x1="123.5" y1="168.4" x2="173.6" y2="168.4" stroke="#151515" stroke-width="1.3"/>
<line x1="202.8" y1="154.0" x2="252.3" y2="154.0" stroke="#151515" stroke-width="1.3"/>
<line x1="258.5" y1="154.0" x2="315.4" y2="154.0" stroke="#151515" stroke-width="1.3"/>
<line x1="208.5" y1="168.5" x2="251.0" y2="168.5" stroke="#151515" stroke-width="1.3"/>
<line x1="269.2" y1="168.5" x2="313.0" y2="168.5" stroke="#151515" stroke-width="1.3"/>
<line x1="48.5" y1="342.3" x2="109.2" y2="342.3" stroke="#151515" stroke-width="1.3"/>
<line x1="117.3" y1="342.3" x2="174.4" y2="342.3" stroke="#151515" stroke-width="1.3"/>
<line x1="52.5" y1="357.5" x2="100.1" y2="357.5" stroke="#151515" stroke-width="1.3"/>
<line x1="122.5" y1="357.5" x2="171.0" y2="357.5" stroke="#151515" stroke-width="1.3"/>
<line x1="202.9" y1="342.3" x2="252.2" y2="342.3" stroke="#151515" stroke-width="1.3"/>
<line x1="262.3" y1="342.3" x2="313.8" y2="342.3" stroke="#151515" stroke-width="1.3"/>
<line x1="209.5" y1="357.4" x2="252.2" y2="357.4" stroke="#151515" stroke-width="1.3"/>
<line x1="270.0" y1="357.4" x2="313.1" y2="357.4" stroke="#151515" stroke-width="1.3"/>
<line x1="49.3" y1="520.0" x2="99.2" y2="520.0" stroke="#151515" stroke-width="1.3"/>
<line x1="107.1" y1="520.0" x2="154.0" y2="520.0" stroke="#151515" stroke-width="1.3"/>
<line x1="53.1" y1="534.6" x2="94.6" y2="534.6" stroke="#151515" stroke-width="1.3"/>
<line x1="107.8" y1="534.6" x2="151.6" y2="534.6" stroke="#151515" stroke-width="1.3"/>
<line x1="202.8" y1="520.0" x2="251.9" y2="520.0" stroke="#151515" stroke-width="1.3"/>
<line x1="260.5" y1="520.0" x2="309.7" y2="520.0" stroke="#151515" stroke-width="1.3"/>
<line x1="207.0" y1="534.9" x2="249.9" y2="534.9" stroke="#151515" stroke-width="1.3"/>
<line x1="262.6" y1="534.9" x2="305.4" y2="534.9" stroke="#151515" stroke-width="1.3"/>
<rect x="0.5" y="0.5" width="519" height="554" fill="none" stroke="#000" stroke-width="1.2"/>
</svg></body></html>
